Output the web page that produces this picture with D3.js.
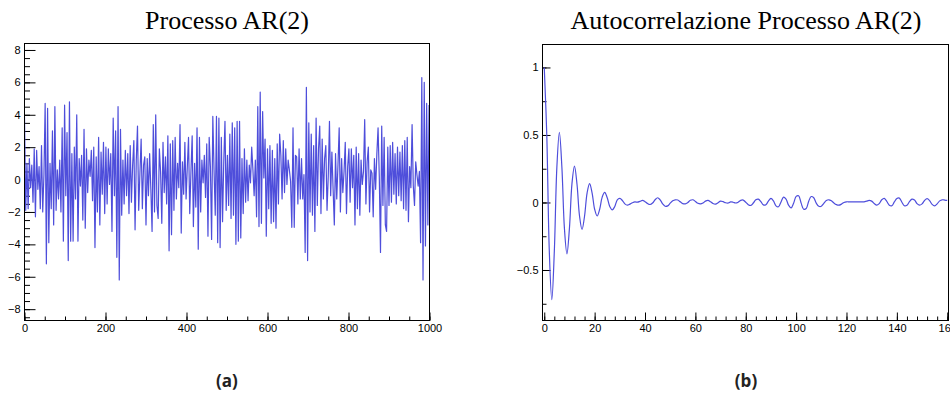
<!DOCTYPE html>
<html>
<head>
<meta charset="utf-8">
<script src="https://cdn.jsdelivr.net/npm/d3@7"></script>
<style>
  body { margin: 0; background: #fff; }
  svg { display: block; }
  .tick text { font-family: "Liberation Sans", Arial, sans-serif; font-size: 11px; fill: #000; }
  .tick line { stroke: #000; stroke-width: 1; }
  .title { font-family: "Liberation Serif", "DejaVu Serif", serif; font-size: 26px; fill: #000; }
  .caption { font-family: "Open Sans", "Liberation Sans", sans-serif; font-weight: 700; font-size: 17px; fill: #222; }
</style>
</head>
<body>
<div id="chart"></div>
<script>
// AR(2) process, one value read every 3 steps (t = 0, 3, ..., 999)
const arStep = 3;
const arValues = [
  3.9, -1.9, 1.0, -1.8, 1.3, -0.5, 0.9, -1.4, 1.9, -2.3, 1.8, -0.6, 0.8, -1.8, 2.1, -2.0, 0.3, 4.7, -5.2, 4.4,
  -3.9, 1.0, -1.8, 3.0, -2.8, 4.5, -1.9, 0.6, -1.2, 1.2, -2.0, 3.2, -3.8, 4.6, -1.0, 2.9, -5.0, 4.8, -3.8, 1.6,
  -3.8, 2.0, -1.2, 4.0, -3.8, 1.3, -0.4, 1.5, -2.5, 3.1, -3.0, 1.9, -0.8, 1.2, 0.2, 1.8, -1.3, 2.0, -4.2, 1.4,
  -2.0, 2.6, -2.8, 1.7, -0.9, 2.3, -2.1, 2.0, -1.5, 1.9, -0.3, 1.6, -3.2, 3.8, -1.0, 3.0, -4.8, 4.5, -6.2, 3.1,
  -2.2, 1.2, -1.5, 1.8, -1.0, 1.6, -2.1, 2.1, -1.4, 0.9, 2.4, -3.1, 1.2, 3.3, -1.9, 0.4, 2.5, -1.8, 0.9, 1.4,
  -2.8, 1.3, -1.0, 1.6, -0.6, -3.2, 3.4, -2.0, 4.0, -1.6, -2.4, 1.9, 0.5, -2.7, 2.3, -0.8, 1.4, -1.5, 2.7, -4.4,
  2.2, -3.4, 2.4, -1.9, 2.6, -1.2, 1.0, -0.5, 3.4, -3.3, 1.1, -0.9, 2.3, -1.2, 0.8, 2.6, -2.1, 0.5, 2.7, -2.9,
  1.0, -1.7, 3.2, -4.3, 2.6, -2.0, 1.2, -0.2, 1.5, -1.1, 2.2, -3.5, 2.6, 0.8, -3.7, 3.9, 0.6, -2.2, 3.9, -3.9,
  3.8, -4.2, 2.6, -2.6, 1.1, 3.6, -1.9, 1.5, -1.6, 2.8, -2.4, 3.5, -2.2, 3.2, -4.0, 3.6, -3.8, 3.6, -3.6, 1.3,
  -2.1, 1.9, -1.4, 1.2, -1.3, 0.9, -0.2, 2.0, 0.6, -1.0, 1.2, -2.3, 4.5, -2.9, 5.4, -2.7, 4.2, 0.1, 2.5, -3.5,
  1.9, -1.8, 2.1, -2.7, 1.8, -2.6, 1.3, -3.0, 2.2, -1.5, 2.8, 1.5, -1.2, 2.4, -0.8, 1.9, -0.3, 1.2, 0.6, -0.1,
  -2.95, 3.2, -2.95, 1.5, 1.4, -1.5, 1.9, -1.2, 1.3, -1.2, 0.3, -4.5, 5.7, -5.0, 3.5, -2.0, 2.8, -2.2, 2.1, -3.2,
  3.8, -1.6, 1.9, 3.3, -2.1, 2.5, -1.2, 1.3, 2.1, -1.9, 0.2, 3.6, -1.0, 1.7, -0.6, -2.8, 1.6, -1.2, 0.9, 3.2,
  -2.0, 1.3, -0.8, 0.5, 2.3, -2.1, 0.8, 1.9, -1.4, 1.9, -0.5, 1.5, -2.8, 2.0, -1.8, 1.6, -2.2, 1.2, -0.3, 0.5,
  3.7, -1.5, 1.1, 2.0, -2.0, 0.6, 0.4, -2.3, 1.3, -0.6, 1.6, 3.2, 0.2, -4.5, 3.3, -1.6, 2.6, -2.8, -3.2, 2.0,
  -1.6, 2.1, -1.4, 2.3, -0.9, 1.6, -1.5, 2.0, -1.0, 1.7, -1.3, 2.1, -1.8, 2.4, -1.9, 2.6, -2.6, 0.8, -0.5, 3.4,
  -0.4, -1.6, 1.1, 0.3, -0.4, 0.5, -3.9, 6.3, -6.2, 6.0, -4.1, 4.7, -2.8, 4.6
];

// sample autocorrelation, lags 0..160
const acfValues = [
  1.0, 0.50, -0.36, -0.72, -0.36, 0.26, 0.52, 0.26, -0.19, -0.38,
  -0.19, 0.14, 0.27, 0.135, -0.10, -0.20, -0.10, 0.07, 0.14, 0.07,
  -0.05, -0.10, -0.05, 0.04, 0.075, 0.035, -0.03, -0.055, -0.03, 0.02,
  0.03, 0.015, -0.01, -0.02, -0.012, -0.002, 0.004, 0.002, 0.008, 0.015,
  0.006, -0.008, -0.015, -0.004, 0.02, 0.035, 0.02, -0.01, -0.028, -0.025,
  -0.005, 0.012, 0.02, 0.018, 0.005, -0.008, -0.01, 0.0, 0.016, 0.02,
  0.008, -0.006, -0.01, -0.004, 0.01, 0.015, 0.006, -0.008, -0.012, -0.002,
  0.01, 0.006, -0.002, -0.004, 0.004, 0.002, -0.004, 0.002, 0.016, 0.018,
  0.002, -0.016, -0.022, -0.004, 0.02, 0.025, 0.006, -0.018, -0.016, 0.01,
  0.03, 0.012, -0.025, -0.032, 0.004, 0.04, 0.025, -0.02, -0.04, -0.005,
  0.045, 0.05, -0.005, -0.05, -0.045, 0.01, 0.044, 0.035, -0.005, -0.028,
  -0.028, -0.006, 0.015, 0.02, 0.012, -0.004, -0.016, -0.02, -0.012, 0.0,
  0.005, 0.005, 0.005, 0.005, 0.004, 0.004, 0.004, 0.005, 0.01, 0.015,
  0.01, -0.008, -0.02, -0.008, 0.02, 0.03, 0.008, -0.02, -0.024, 0.004,
  0.03, 0.032, 0.002, -0.024, -0.02, 0.006, 0.025, 0.018, -0.008, -0.02,
  -0.01, 0.015, 0.028, 0.014, -0.014, -0.025, -0.01, 0.012, 0.02, 0.018,
  0.015
];

const leftXTicks = [0, 200, 400, 600, 800, 1000];
const leftYTicks = [-8, -6, -4, -2, 0, 2, 4, 6, 8];
const rightXTicks = [0, 20, 40, 60, 80, 100, 120, 140, 160];
const rightYTicks = [-0.5, 0, 0.5, 1];

const lineColor = '#4e4edb';

let svg = d3.select('#chart')
            .append('svg')
            .attr('width', 950)
            .attr('height', 394);

function drawPanel(p) {
  let x = d3.scaleLinear().domain(p.xDomain).range([p.left, p.right]);
  let y = d3.scaleLinear().domain(p.yDomain).range([p.bottom, p.top]);

  let g = svg.append('g');

  // minor ticks
  g.append('g')
    .attr('transform', `translate(0,${p.bottom})`)
    .call(d3.axisBottom(x).tickValues(d3.range(p.xDomain[0] < 0 ? 0 : p.xDomain[0], p.xMax + 1e-9, p.xMinor))
      .tickSizeInner(-p.xTick / 2).tickSizeOuter(0).tickFormat(''))
    .call(a => a.select('.domain').remove());
  g.append('g')
    .attr('transform', `translate(${p.left},0)`)
    .call(d3.axisLeft(y).tickValues(d3.range(p.yMinorStart, p.yDomain[1], p.yMinor))
      .tickSizeInner(-p.yTick / 2).tickSizeOuter(0).tickFormat(''))
    .call(a => a.select('.domain').remove());

  // major ticks + labels
  g.append('g')
    .attr('transform', `translate(0,${p.bottom})`)
    .call(d3.axisBottom(x).tickValues(p.xTicks)
      .tickSizeInner(-p.xTick).tickSizeOuter(0).tickPadding(4).tickFormat(d3.format('~g')))
    .call(a => a.select('.domain').remove());
  g.append('g')
    .attr('transform', `translate(${p.left},0)`)
    .call(d3.axisLeft(y).tickValues(p.yTicks)
      .tickSizeInner(-p.yTick).tickSizeOuter(0).tickPadding(4).tickFormat(d3.format('~g')))
    .call(a => a.select('.domain').remove());

  g.append('clipPath').attr('id', p.id)
    .append('rect')
    .attr('x', p.left).attr('y', p.top)
    .attr('width', p.right - p.left).attr('height', p.bottom - p.top);

  let line = d3.line()
               .x(d => x(d[0]))
               .y(d => y(d[1]))
               .curve(p.curve);

  g.append('path')
    .datum(p.data)
    .attr('clip-path', `url(#${p.id})`)
    .attr('d', line)
    .style('fill', 'none')
    .style('stroke', lineColor)
    .style('stroke-width', 1.2)
    .style('stroke-linejoin', 'round');

  // frame
  g.append('rect')
    .attr('x', p.left).attr('y', p.top)
    .attr('width', p.right - p.left).attr('height', p.bottom - p.top)
    .style('fill', 'none')
    .style('stroke', '#000')
    .style('stroke-width', 1);

  svg.append('text')
    .attr('class', 'title')
    .attr('x', p.titleX).attr('y', 29)
    .attr('text-anchor', 'middle')
    .text(p.title);

  svg.append('text')
    .attr('class', 'caption')
    .attr('x', p.titleX).attr('y', 387)
    .attr('text-anchor', 'middle')
    .text(p.caption);
}

drawPanel({
  id: 'clipA',
  data: arValues.map((v, i) => [i * arStep, v]),
  xDomain: [0, 1000], xMax: 1000, xMinor: 50, xTicks: leftXTicks,
  yDomain: [-8.7, 8.4], yMinorStart: -8.5, yMinor: 0.5, yTicks: leftYTicks,
  left: 24.5, right: 429.5, top: 43.5, bottom: 320.5,
  xTick: 8, yTick: 11,
  curve: d3.curveLinear,
  title: 'Processo AR(2)', caption: '(a)', titleX: 227
});

drawPanel({
  id: 'clipB',
  data: acfValues.map((v, i) => [i, v]),
  xDomain: [-0.7, 160.5], xMax: 160, xMinor: 4, xTicks: rightXTicks,
  yDomain: [-0.874, 1.17], yMinorStart: -0.75, yMinor: 0.25, yTicks: rightYTicks,
  left: 542.5, right: 948.5, top: 44.5, bottom: 320.5,
  xTick: 8, yTick: 8,
  curve: d3.curveCatmullRom,
  title: 'Autocorrelazione Processo AR(2)', caption: '(b)', titleX: 746
});
</script>
</body>
</html>
